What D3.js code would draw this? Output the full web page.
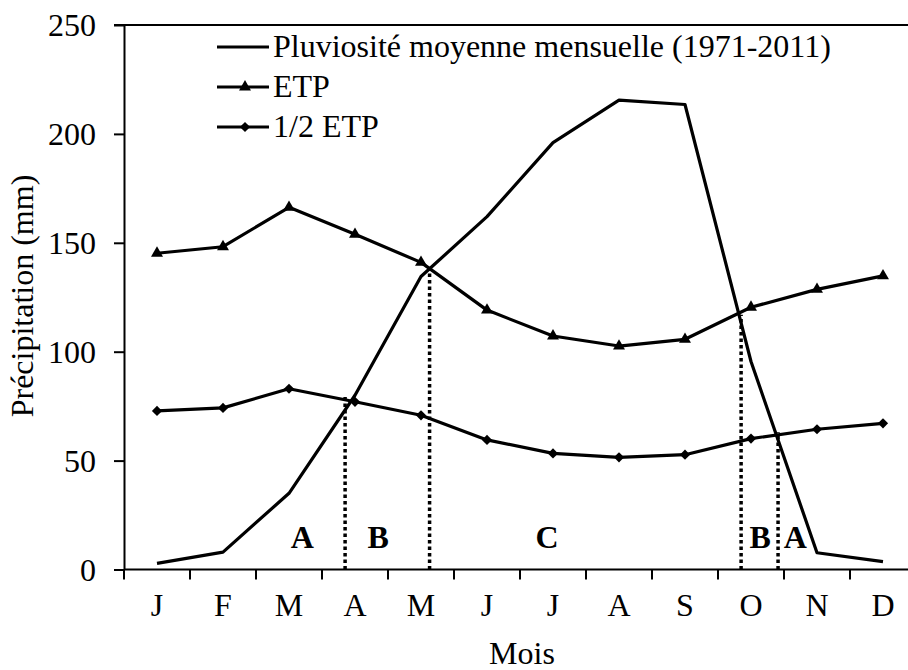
<!DOCTYPE html>
<html>
<head>
<meta charset="utf-8">
<script src="https://cdn.jsdelivr.net/npm/d3@7"></script>
<style>
  body { margin: 0; background: #fff; }
</style>
</head>
<body>
<div id="chart"></div>
<script>
// Données
var months = ['J','F','M','A','M','J','J','A','S','O','N','D'];
var pluie  = [2.8, 8, 35, 80, 134.5, 162, 196, 215.5, 213.5, 95.5, 7.7, 3.6];
var etp    = [145.2, 148.2, 166.3, 153.9, 141, 119.1, 107.2, 102.6, 105.7, 120.4, 128.6, 134.8];
var demiEtp = [72.8, 74.2, 83, 77, 70.8, 59.5, 53.3, 51.5, 52.7, 60.1, 64.4, 67.1];
var yTicks = [0, 50, 100, 150, 200, 250];
// limites des périodes (mois fractionnaires, hauteur en mm)
var limites = [{m: 3.35, v: 80}, {m: 4.63, v: 139}, {m: 9.35, v: 117}, {m: 9.91, v: 63}];
var periodes = [
  {t: 'A', m: 2.70, v: 10}, {t: 'B', m: 3.85, v: 10}, {t: 'C', m: 6.41, v: 10},
  {t: 'B', m: 9.64, v: 10}, {t: 'A', m: 10.17, v: 10}
];
var legende = ['Pluviosité moyenne mensuelle (1971-2011)', 'ETP', '1/2 ETP'];

var FONT = '"Liberation Serif", "Times New Roman", Tinos, "DejaVu Serif", serif';
var FS = 32;
var W = 908, H = 670;
var svg = d3.select('#chart').append('svg').attr('width', W).attr('height', H)
    .style('font-family', FONT);

var x = d3.scaleLinear().domain([0, 12]).range([124, 916]);
var y = d3.scaleLinear().domain([0, 250]).range([569.5, 25]);

function line(vals){
    return d3.line()
        .x(function(d, i){ return x(i + 0.5); })
        .y(function(d){ return y(d); })(vals);
}

// Axe Y
var yAxis = svg.append('g').attr('transform', 'translate(124,0)')
    .call(d3.axisLeft(y).tickValues(yTicks).tickSize(10).tickPadding(18).tickSizeOuter(0));
yAxis.attr('font-family', null).attr('font-size', null);
yAxis.select('.domain').attr('stroke-width', 2);
yAxis.selectAll('.tick line').attr('stroke-width', 2);
yAxis.selectAll('.tick text').attr('font-size', FS).attr('dy', '0.34em')
    .style('font-family', FONT);

// Cadre haut
svg.append('line').attr('x1', 114).attr('x2', W).attr('y1', y(250)).attr('y2', y(250))
    .attr('stroke', '#000').attr('stroke-width', 2);

// Axe X
svg.append('line').attr('x1', x(0)).attr('x2', x(12)).attr('y1', y(0)).attr('y2', y(0))
    .attr('stroke', '#000').attr('stroke-width', 2);
svg.append('g').selectAll('line').data(d3.range(13)).join('line')
    .attr('x1', function(d){ return x(d); }).attr('x2', function(d){ return x(d); })
    .attr('y1', y(0)).attr('y2', y(0) + 10)
    .attr('stroke', '#000').attr('stroke-width', 2);
svg.append('g').selectAll('text').data(months).join('text')
    .attr('x', function(d, i){ return x(i + 0.5); }).attr('y', 616)
    .attr('text-anchor', 'middle').attr('font-size', FS)
    .style('font-family', FONT)
    .text(function(d){ return d; });

// Titres des axes
svg.append('text').attr('x', 522).attr('y', 664).attr('text-anchor', 'middle')
    .attr('font-size', FS).style('font-family', FONT).text('Mois');
svg.append('text').attr('transform', 'translate(33,296) rotate(-90)')
    .attr('text-anchor', 'middle').attr('font-size', FS).style('font-family', FONT)
    .text('Précipitation (mm)');

// Limites pointillées
svg.append('g').selectAll('line').data(limites).join('line')
    .attr('x1', function(d){ return x(d.m); }).attr('x2', function(d){ return x(d.m); })
    .attr('y1', y(0)).attr('y2', function(d){ return y(d.v); })
    .attr('stroke', '#000').attr('stroke-width', 3.5).attr('stroke-dasharray', '3.5,3');

// Séries
[pluie, etp, demiEtp].forEach(function(s){
    svg.append('path').attr('d', line(s)).attr('fill', 'none')
        .attr('stroke', '#000').attr('stroke-width', 3.2).attr('stroke-linejoin', 'round');
});

var tri = d3.symbol().type(d3.symbolTriangle).size(62);
var dia = d3.symbol().type(d3.symbolSquare).size(52);

svg.append('g').selectAll('path').data(etp).join('path')
    .attr('d', tri)
    .attr('transform', function(d, i){ return 'translate(' + x(i + 0.5) + ',' + y(d) + ')'; });
svg.append('g').selectAll('path').data(demiEtp).join('path')
    .attr('d', dia)
    .attr('transform', function(d, i){ return 'translate(' + x(i + 0.5) + ',' + y(d) + ') rotate(45)'; });

// Lettres des périodes
svg.append('g').selectAll('text').data(periodes).join('text')
    .attr('x', function(d){ return x(d.m); }).attr('y', function(d){ return y(d.v); })
    .attr('text-anchor', 'middle').attr('font-size', FS).attr('font-weight', 'bold')
    .style('font-family', FONT)
    .text(function(d){ return d.t; });

// Légende
var leg = svg.append('g').selectAll('g').data(legende).join('g')
    .attr('transform', function(d, i){ return 'translate(217,' + (47 + i * 40) + ')'; });
leg.append('line').attr('x1', 0).attr('x2', 52).attr('stroke', '#000').attr('stroke-width', 3.2);
leg.append('text').attr('x', 56).attr('y', 10).attr('font-size', FS).style('font-family', FONT)
    .text(function(d){ return d; });
leg.filter(function(d, i){ return i === 1; }).append('path').attr('d', tri).attr('transform', 'translate(28,0)');
leg.filter(function(d, i){ return i === 2; }).append('path').attr('d', dia).attr('transform', 'translate(28,0) rotate(45)');
</script>
</body>
</html>
